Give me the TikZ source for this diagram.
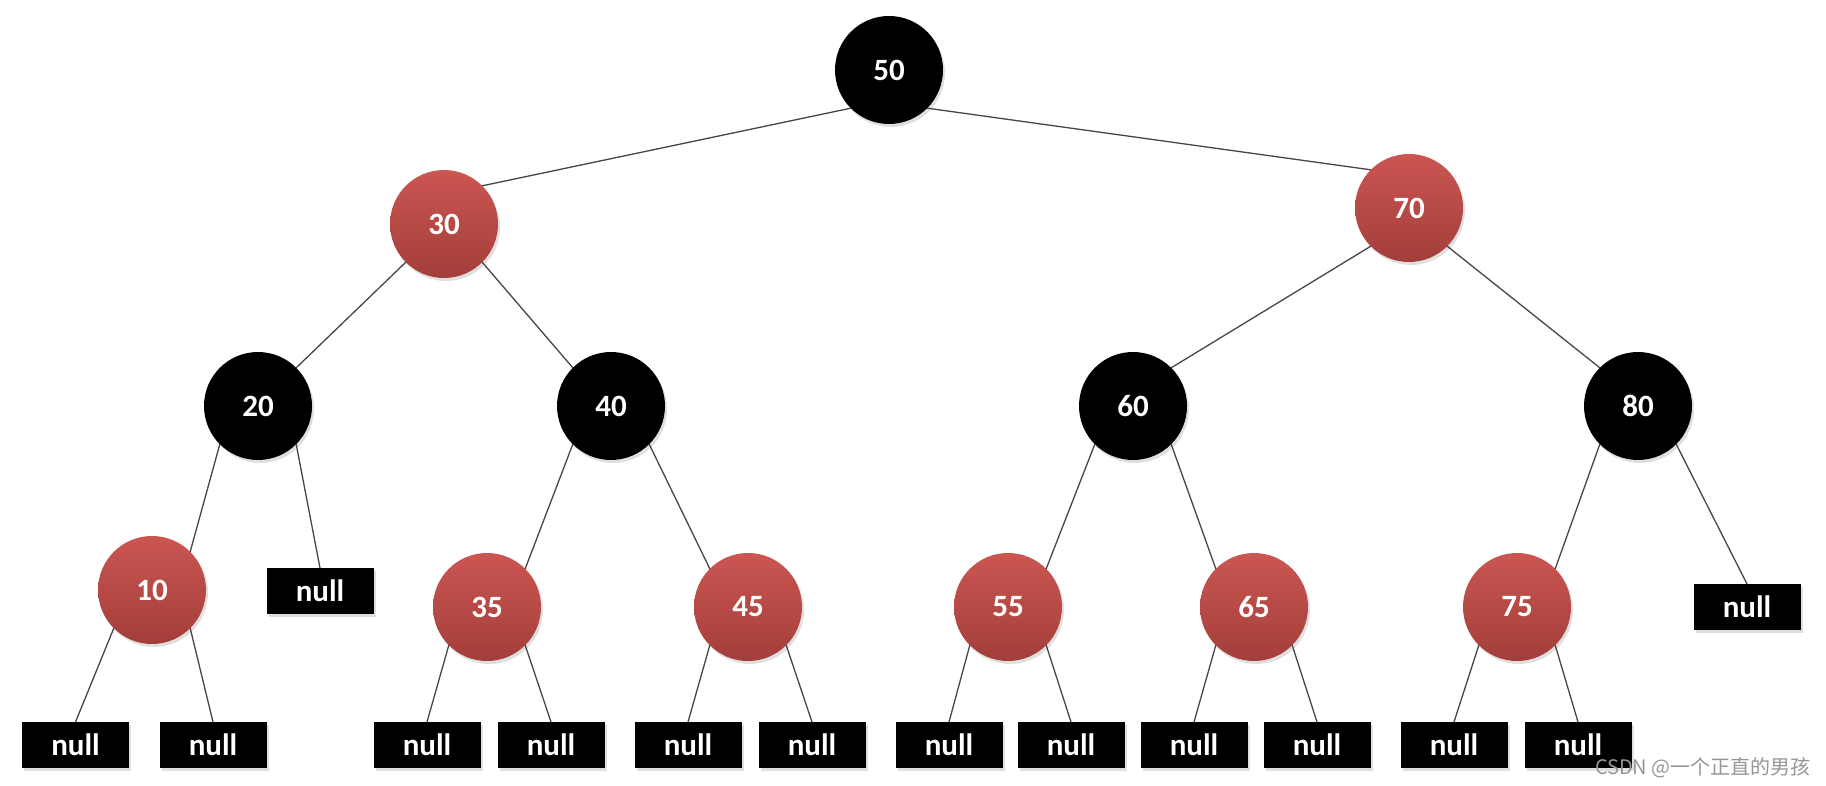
\documentclass[tikz,border=0pt]{standalone}
\usepackage{fontspec}
\setmainfont{Carlito}
\newfontfamily\cjk{Noto Sans CJK SC}
\usetikzlibrary{shadows}
\definecolor{redtop}{RGB}{203,86,82}
\definecolor{redbot}{RGB}{163,62,58}
\definecolor{edgecol}{RGB}{70,70,70}
\definecolor{wmcol}{RGB}{150,150,150}
\tikzset{
  nodefont/.style={font=\bfseries\fontsize{31}{36}\selectfont},
  blknode/.style={circle, fill=black, minimum size=108, inner sep=0, outer sep=0,
    text=white, nodefont, drop shadow={opacity=0.25, shadow xshift=2pt, shadow yshift=-3pt}},
  rednode/.style={circle, top color=redtop, bottom color=redbot, draw=none, minimum size=108,
    inner sep=0, outer sep=0, text=white, nodefont,
    drop shadow={opacity=0.25, shadow xshift=2pt, shadow yshift=-3pt}},
  nullbox/.style={rectangle, fill=black, minimum width=107, minimum height=46, inner sep=0,
    outer sep=0, text=white, nodefont,
    drop shadow={opacity=0.25, shadow xshift=2pt, shadow yshift=-3pt}},
  edge/.style={draw=edgecol, line width=1.3pt}
}
\begin{document}
\begin{tikzpicture}[x=1pt,y=-1pt]
\useasboundingbox (0,0) rectangle (1826,786);
% circles
\node[blknode] (n50) at (889,70) {50};
\node[rednode] (n30) at (444,224) {30};
\node[rednode] (n70) at (1409,208) {70};
\node[blknode] (n20) at (258,406) {20};
\node[blknode] (n40) at (611,406) {40};
\node[blknode] (n60) at (1133,406) {60};
\node[blknode] (n80) at (1638,406) {80};
\node[rednode] (n10) at (152,590) {10};
\node[rednode] (n35) at (487,607) {35};
\node[rednode] (n45) at (748,607) {45};
\node[rednode] (n55) at (1008,607) {55};
\node[rednode] (n65) at (1254,607) {65};
\node[rednode] (n75) at (1517,607) {75};
% null leaves
\node[nullbox] (z20) at (320,591) {null};
\node[nullbox] (z80) at (1747,607) {null};
\node[nullbox] (a1) at (75.5,745) {null};
\node[nullbox] (a2) at (213,745) {null};
\node[nullbox] (a3) at (427,745) {null};
\node[nullbox] (a4) at (551,745) {null};
\node[nullbox] (a5) at (688,745) {null};
\node[nullbox] (a6) at (812,745) {null};
\node[nullbox] (a7) at (949,745) {null};
\node[nullbox] (a8) at (1071,745) {null};
\node[nullbox] (a9) at (1194,745) {null};
\node[nullbox] (a10) at (1317,745) {null};
\node[nullbox] (a11) at (1454,745) {null};
\node[nullbox] (a12) at (1578,745) {null};
% edges
\begin{scope}[on background layer/.try]
\end{scope}
\draw[edge] (n50.south west) -- (n30.north east);
\draw[edge] (n50.south east) -- (n70.north west);
\draw[edge] (n30.south west) -- (n20.north east);
\draw[edge] (n30.south east) -- (n40.north west);
\draw[edge] (n70.south west) -- (n60.north east);
\draw[edge] (n70.south east) -- (n80.north west);
\draw[edge] (n20.south west) -- (n10.north east);
\draw[edge] (n20.south east) -- (z20.north);
\draw[edge] (n40.south west) -- (n35.north east);
\draw[edge] (n40.south east) -- (n45.north west);
\draw[edge] (n60.south west) -- (n55.north east);
\draw[edge] (n60.south east) -- (n65.north west);
\draw[edge] (n80.south west) -- (n75.north east);
\draw[edge] (n80.south east) -- (z80.north);
\draw[edge] (n10.south west) -- (a1.north);
\draw[edge] (n10.south east) -- (a2.north);
\draw[edge] (n35.south west) -- (a3.north);
\draw[edge] (n35.south east) -- (a4.north);
\draw[edge] (n45.south west) -- (a5.north);
\draw[edge] (n45.south east) -- (a6.north);
\draw[edge] (n55.south west) -- (a7.north);
\draw[edge] (n55.south east) -- (a8.north);
\draw[edge] (n65.south west) -- (a9.north);
\draw[edge] (n65.south east) -- (a10.north);
\draw[edge] (n75.south west) -- (a11.north);
\draw[edge] (n75.south east) -- (a12.north);
% watermark
\node[anchor=east, text=wmcol, font=\cjk\fontsize{20}{24}\selectfont, inner sep=0] (wm) at (1811,768) {CSDN @一个正直的男孩};
\end{tikzpicture}
\end{document}
